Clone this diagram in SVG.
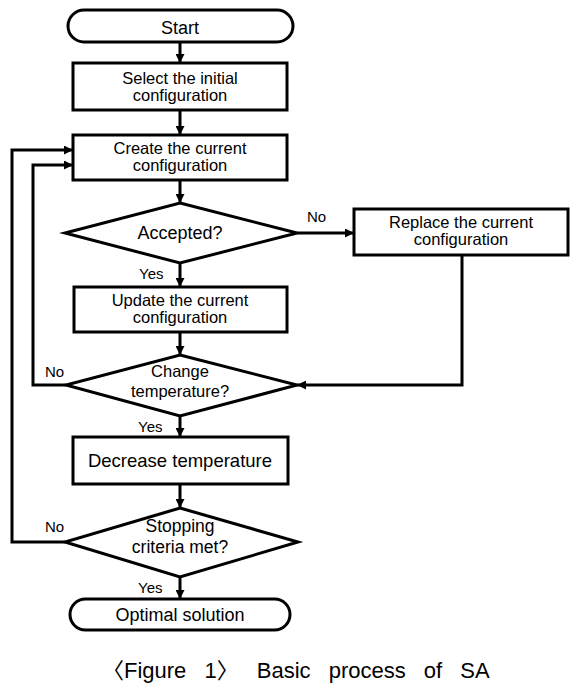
<svg xmlns="http://www.w3.org/2000/svg" width="587" height="696" viewBox="0 0 587 696">
<style>
.n{fill:#fff;stroke:#000;stroke-width:3}
.c{fill:none;stroke:#000;stroke-width:3}
text{font-family:"Liberation Sans",Arial,sans-serif;fill:#000;text-anchor:middle}
.t{font-size:16.5px}
.d{font-size:17.5px}
.l{font-size:15px;text-anchor:start}
.cap{font-size:22px;text-anchor:start;word-spacing:12px;font-family:"Liberation Sans","Noto Sans CJK KR",sans-serif}
</style>
<defs>
<marker id="ah" viewBox="0 0 10 10" refX="10" refY="5" markerWidth="3" markerHeight="3" orient="auto" markerUnits="strokeWidth">
<path d="M0,0 L10,5 L0,10 z" fill="#000"/>
</marker>
</defs>
<rect width="587" height="696" fill="#fff"/>
<g id="connectors">
<line class="c" x1="180" y1="42" x2="180" y2="63" marker-end="url(#ah)"/>
<line class="c" x1="180" y1="110" x2="180" y2="135" marker-end="url(#ah)"/>
<line class="c" x1="180" y1="180" x2="180" y2="203" marker-end="url(#ah)"/>
<line class="c" x1="180" y1="263" x2="180" y2="287" marker-end="url(#ah)"/>
<line class="c" x1="180" y1="332" x2="180" y2="355" marker-end="url(#ah)"/>
<line class="c" x1="180" y1="416" x2="180" y2="437" marker-end="url(#ah)"/>
<line class="c" x1="180" y1="484" x2="180" y2="508" marker-end="url(#ah)"/>
<line class="c" x1="180" y1="577" x2="180" y2="599" marker-end="url(#ah)"/>
<line class="c" x1="297" y1="233" x2="354" y2="233" marker-end="url(#ah)"/>
<polyline class="c" points="462,255 462,385 297,385" marker-end="url(#ah)"/>
<polyline class="c" points="66,385 33,385 33,165 73,165" marker-end="url(#ah)"/>
<polyline class="c" points="65,542 12,542 12,150 73,150" marker-end="url(#ah)"/>
<text class="l" x="307" y="222">No</text>
<text class="l" x="139" y="279">Yes</text>
<text class="l" x="45" y="377">No</text>
<text class="l" x="138" y="432">Yes</text>
<text class="l" x="45" y="532">No</text>
<text class="l" x="138" y="593">Yes</text>
</g>
<g id="start">
<rect class="n" x="68" y="10" width="225" height="32" rx="16" ry="16"/>
<text x="180" y="34" style="font-size:18px">Start</text>
</g>
<g id="select">
<rect class="n" x="73" y="63" width="214" height="47"/>
<text class="t" x="180" y="84">Select the initial</text>
<text class="t" x="180" y="101">configuration</text>
</g>
<g id="create">
<rect class="n" x="73" y="135" width="214" height="45"/>
<text class="t" x="180" y="154">Create the current</text>
<text class="t" x="180" y="171">configuration</text>
</g>
<g id="accepted">
<polygon class="n" points="180,203 297,233 180,263 65,233"/>
<text x="180" y="239" style="font-size:18px">Accepted?</text>
</g>
<g id="replace">
<rect class="n" x="354" y="209" width="214" height="46"/>
<text class="t" x="461" y="228">Replace the current</text>
<text class="t" x="461" y="245">configuration</text>
</g>
<g id="update">
<rect class="n" x="74" y="287" width="213" height="45"/>
<text class="t" x="180" y="306">Update the current</text>
<text class="t" x="180" y="323">configuration</text>
</g>
<g id="change">
<polygon class="n" points="180,355 297,385 180,416 66,385"/>
<text class="t" x="180" y="377">Change</text>
<text class="t" x="180" y="397">temperature?</text>
</g>
<g id="decrease">
<rect class="n" x="73" y="437" width="215" height="47"/>
<text x="180" y="467" style="font-size:18.5px">Decrease temperature</text>
</g>
<g id="stopping">
<polygon class="n" points="180,508 298,542 180,577 65,542"/>
<text class="d" x="180" y="532">Stopping</text>
<text class="d" x="180" y="553">criteria met?</text>
</g>
<g id="optimal">
<rect class="n" x="70" y="599" width="220" height="31" rx="15.5" ry="15.5"/>
<text x="180" y="621" style="font-size:18px">Optimal solution</text>
</g>
<text class="cap" x="102" y="678">〈Figure 1〉 Basic process of SA</text>
</svg>
